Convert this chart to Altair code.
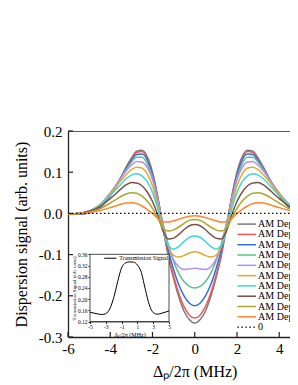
import altair as alt
import pandas as pd

# ---- main chart data: probe detuning (MHz) and dispersion signal per AM depth ----
x_mhz = [-6, -5.5, -5, -4.5, -4, -3.75, -3.5, -3.25, -3, -2.75, -2.5, -2.25, -2, -1.75, -1.5,
         -1.25, -1, -0.75, -0.5, -0.25, 0, 0.25, 0.5, 0.75, 1, 1.25, 1.5, 1.75, 2, 2.25, 2.5,
         2.75, 3, 3.25, 3.5, 3.75, 4, 4.5, 5, 5.5, 6]

series_names = ["AM Depth(100%)", "AM Depth(90%)", "AM Depth(80%)", "AM Depth(70%)",
                "AM Depth(60%)", "AM Depth(50%)", "AM Depth(40%)", "AM Depth(30%)",
                "AM Depth(20%)", "AM Depth(10%)"]
series_colors = ["#7a7a7a", "#f25858", "#2f6fe0", "#5cc08a", "#b88cf0",
                 "#e3a92b", "#3ed6d6", "#7f4f45", "#a9a82a", "#ff8533"]

depth_100 = [-0.001, -0.002, 0.001, 0.013, 0.043, 0.064, 0.087, 0.112, 0.134, 0.151, 0.153, 0.138, 0.100, 0.040, -0.035,
             -0.105, -0.158, -0.203, -0.238, -0.258, -0.266, -0.258, -0.238, -0.203, -0.158, -0.105, -0.035, 0.040, 0.100, 0.138,
             0.153, 0.151, 0.134, 0.112, 0.087, 0.064, 0.043, 0.013, 0.001, -0.002, -0.001]
depth_90 = [-0.001, -0.002, 0.002, 0.014, 0.044, 0.065, 0.087, 0.111, 0.133, 0.148, 0.150, 0.135, 0.097, 0.038, -0.034,
            -0.100, -0.152, -0.195, -0.227, -0.247, -0.254, -0.247, -0.227, -0.195, -0.152, -0.100, -0.034, 0.038, 0.097, 0.135,
            0.150, 0.148, 0.133, 0.111, 0.087, 0.065, 0.044, 0.014, 0.002, -0.002, -0.001]
depth_80 = [-0.001, -0.002, 0.003, 0.016, 0.046, 0.066, 0.087, 0.109, 0.129, 0.143, 0.144, 0.130, 0.093, 0.036, -0.030,
            -0.089, -0.136, -0.174, -0.201, -0.218, -0.224, -0.218, -0.201, -0.174, -0.136, -0.089, -0.030, 0.036, 0.093, 0.130,
            0.144, 0.143, 0.129, 0.109, 0.087, 0.066, 0.046, 0.016, 0.003, -0.002, -0.001]
depth_70 = [-0.001, -0.001, 0.005, 0.019, 0.048, 0.066, 0.086, 0.106, 0.124, 0.136, 0.136, 0.121, 0.087, 0.034, -0.025,
            -0.076, -0.116, -0.146, -0.166, -0.177, -0.181, -0.177, -0.166, -0.146, -0.116, -0.076, -0.025, 0.034, 0.087, 0.121,
            0.136, 0.136, 0.124, 0.106, 0.086, 0.066, 0.048, 0.019, 0.005, -0.001, -0.001]
depth_60 = [-0.001, 0.000, 0.006, 0.021, 0.050, 0.067, 0.085, 0.103, 0.117, 0.126, 0.125, 0.112, 0.082, 0.033, -0.026,
            -0.078, -0.112, -0.130, -0.136, -0.135, -0.133, -0.135, -0.136, -0.130, -0.112, -0.078, -0.026, 0.033, 0.082, 0.112,
            0.125, 0.126, 0.117, 0.103, 0.085, 0.067, 0.050, 0.021, 0.006, 0.000, -0.001]
depth_50 = [-0.001, 0.000, 0.006, 0.021, 0.048, 0.063, 0.079, 0.094, 0.106, 0.112, 0.110, 0.096, 0.067, 0.021, -0.036,
            -0.080, -0.102, -0.106, -0.102, -0.096, -0.093, -0.096, -0.102, -0.106, -0.102, -0.080, -0.036, 0.021, 0.067, 0.096,
            0.110, 0.112, 0.106, 0.094, 0.079, 0.063, 0.048, 0.021, 0.006, 0.000, -0.001]
depth_40 = [-0.001, 0.000, 0.006, 0.019, 0.044, 0.057, 0.071, 0.084, 0.093, 0.096, 0.091, 0.077, 0.051, 0.011, -0.041,
            -0.078, -0.087, -0.080, -0.068, -0.058, -0.055, -0.058, -0.068, -0.080, -0.087, -0.078, -0.041, 0.011, 0.051, 0.077,
            0.091, 0.096, 0.093, 0.084, 0.071, 0.057, 0.044, 0.019, 0.006, 0.000, -0.001]
depth_30 = [-0.001, 0.000, 0.005, 0.016, 0.036, 0.047, 0.059, 0.069, 0.075, 0.074, 0.067, 0.052, 0.029, -0.004, -0.043,
            -0.062, -0.060, -0.051, -0.039, -0.030, -0.027, -0.030, -0.039, -0.051, -0.060, -0.062, -0.043, -0.004, 0.029, 0.052,
            0.067, 0.074, 0.075, 0.069, 0.059, 0.047, 0.036, 0.016, 0.005, 0.000, -0.001]
depth_20 = [-0.001, 0.000, 0.003, 0.011, 0.025, 0.033, 0.041, 0.047, 0.050, 0.049, 0.042, 0.030, 0.012, -0.012, -0.036,
            -0.043, -0.040, -0.033, -0.024, -0.017, -0.015, -0.017, -0.024, -0.033, -0.040, -0.043, -0.036, -0.012, 0.012, 0.030,
            0.042, 0.049, 0.050, 0.047, 0.041, 0.033, 0.025, 0.011, 0.003, 0.000, -0.001]
depth_10 = [-0.001, 0.000, 0.002, 0.007, 0.014, 0.018, 0.022, 0.025, 0.026, 0.024, 0.018, 0.010, 0.000, -0.012, -0.020,
            -0.021, -0.018, -0.014, -0.010, -0.007, -0.006, -0.007, -0.010, -0.014, -0.018, -0.021, -0.020, -0.012, 0.000, 0.010,
            0.018, 0.024, 0.026, 0.025, 0.022, 0.018, 0.014, 0.007, 0.002, 0.000, -0.001]

curves = [depth_100, depth_90, depth_80, depth_70, depth_60,
          depth_50, depth_40, depth_30, depth_20, depth_10]

zero_x = [-6, 6]
zero_y = [0, 0]

x_ticks = [-6, -4, -2, 0, 2, 4]
y_ticks = [-0.3, -0.2, -0.1, 0.0, 0.1, 0.2]

# ---- inset data: transmission signal ----
inset_x = [-5, -4.5, -4, -3.5, -3, -2.5, -2, -1.5, -1, -0.5, 0, 0.5, 1, 1.5, 2, 2.5, 3, 3.5, 4, 4.5, 5]
inset_y = [0.153, 0.150, 0.147, 0.145, 0.148, 0.165, 0.205, 0.262, 0.312, 0.329, 0.333, 0.332, 0.322, 0.295, 0.235,
           0.180, 0.152, 0.146, 0.149, 0.153, 0.158]
inset_x_ticks = [-5, -3, -1, 1, 3, 5]
inset_y_ticks = [0.12, 0.16, 0.20, 0.24, 0.28, 0.32, 0.36]

# ---- tables ----
rows = []
for name, vals in zip(series_names, curves):
    for xv, yv in zip(x_mhz, vals):
        rows.append({"x": xv, "y": yv, "series": name})
df = pd.DataFrame(rows)
zero_df = pd.DataFrame({"x": zero_x, "y": zero_y})
legend_df = pd.DataFrame({"series": series_names, "i": list(range(len(series_names)))})
zero_leg_df = pd.DataFrame({"label": ["0"], "i": [len(series_names)]})
xt_df = pd.DataFrame({"t": x_ticks})
yt_df = pd.DataFrame({"t": y_ticks})
frame_df = pd.DataFrame({"x": [-6], "x2": [6], "y": [0.2]})
inset_df = pd.DataFrame({"u": inset_x, "v": inset_y})
inset_box = pd.DataFrame({"u": [-5], "u2": [5], "v": [0.12], "v2": [0.36]})
inset_leg = pd.DataFrame({"label": ["Transmission Signal"], "u": [-3.2], "u2": [-1.65], "ut": [-1.3], "v": [0.346]})

FONT = "Liberation Serif"
W, H = 222, 206
AX = "#222222"
MINUS_X = "replace(format(datum.value, 'd'), '\u2212', '-')"
MINUS_Y = "replace(format(datum.value, '.1f'), '\u2212', '-')"


def xs():
    return alt.Scale(domain=[-6, 4.51], nice=False, zero=False)


def ys():
    return alt.Scale(domain=[-0.3, 0.2], nice=False, zero=False)


def ixs():
    return alt.Scale(domain=[-5, 5], range=[22, 101], nice=False, zero=False)


def iys():
    return alt.Scale(domain=[0.12, 0.36], range=[190.5, 123.3], nice=False, zero=False)


cs = alt.Scale(domain=series_names, range=series_colors)

x_axis = alt.Axis(orient="bottom", values=x_ticks, tickSize=0, labelPadding=4, labelFontSize=15,
                  labelFont=FONT, labelColor="black", labelFlush=False, labelExpr=MINUS_X,
                  title="Δₚ/2π (MHz)", titleFont=FONT, titleFontSize=16, titleFontWeight="normal",
                  titleColor="black", titlePadding=7, titleX=126.7, titleAlign="center",
                  domainColor=AX, domainWidth=1.3, grid=False)
y_axis = alt.Axis(orient="left", values=y_ticks, tickSize=0, labelPadding=6, labelFontSize=15,
                  labelFont=FONT, labelColor="black", labelExpr=MINUS_Y,
                  title="Dispersion signal (arb. units)",
                  titleFont=FONT, titleFontSize=16, titleFontWeight="normal", titleColor="black",
                  titlePadding=9, domainColor=AX, domainWidth=1.3, grid=False)

lines = alt.Chart(df).mark_line(strokeWidth=1.5, interpolate="monotone", clip=True).encode(
    x=alt.X("x:Q", scale=xs(), axis=x_axis),
    y=alt.Y("y:Q", scale=ys(), axis=y_axis),
    color=alt.Color("series:N", scale=cs, legend=None),
)

zero_line = alt.Chart(zero_df).mark_line(color="black", strokeWidth=1.2, strokeDash=[1.5, 2.5], clip=True).encode(
    x=alt.X("x:Q", scale=xs(), axis=None),
    y=alt.Y("y:Q", scale=ys(), axis=None),
)

top_frame = alt.Chart(frame_df).mark_rule(color=AX, strokeWidth=1.3, clip=True).encode(
    x=alt.X("x:Q", scale=xs(), axis=None), x2="x2:Q",
    y=alt.Y("y:Q", scale=ys(), axis=None),
)

xticks_in = alt.Chart(xt_df).mark_rule(color=AX, strokeWidth=1.2).encode(
    x=alt.X("t:Q", scale=xs(), axis=None), y=alt.value(H), y2=alt.value(H - 5),
)
yticks_in = alt.Chart(yt_df).mark_rule(color=AX, strokeWidth=1.2).encode(
    y=alt.Y("t:Q", scale=ys(), axis=None), x=alt.value(0), x2=alt.value(5),
)

leg_base = alt.Chart(legend_df).transform_calculate(
    ly="-0.026 - datum.i * 0.025", lx="2.02", lx2="2.9", tx="3.0")
leg_lines = leg_base.mark_rule(strokeWidth=1.5).encode(
    x=alt.X("lx:Q", scale=xs(), axis=None), x2="lx2:Q",
    y=alt.Y("ly:Q", scale=ys(), axis=None),
    color=alt.Color("series:N", scale=cs, legend=None),
)
leg_text = leg_base.mark_text(align="left", baseline="middle", font=FONT, fontSize=10, color="black").encode(
    x=alt.X("tx:Q", scale=xs(), axis=None),
    y=alt.Y("ly:Q", scale=ys(), axis=None),
    text="series:N",
)
zleg_base = alt.Chart(zero_leg_df).transform_calculate(
    ly="-0.026 - datum.i * 0.025", lx="2.02", lx2="2.9", tx="3.0")
zero_leg_line = zleg_base.mark_rule(strokeWidth=1.2, color="black", strokeDash=[1.5, 2.5]).encode(
    x=alt.X("lx:Q", scale=xs(), axis=None), x2="lx2:Q",
    y=alt.Y("ly:Q", scale=ys(), axis=None),
)
zero_leg_text = zleg_base.mark_text(align="left", baseline="middle", font=FONT, fontSize=10, color="black").encode(
    x=alt.X("tx:Q", scale=xs(), axis=None),
    y=alt.Y("ly:Q", scale=ys(), axis=None),
    text="label:N",
)

# ---- inset (own scales placed inside the plot area) ----
ix_axis = alt.Axis(orient="bottom", offset=-15.5, values=inset_x_ticks, tickSize=2, tickColor=AX,
                   labelFontSize=5.5, labelFont=FONT, labelColor="black", labelPadding=1,
                   labelFlush=False, labelExpr=MINUS_X,
                   title="Δₚ/2π (MHz)", titleFont=FONT, titleFontSize=6, titleFontWeight="normal",
                   titleColor="black", titlePadding=1, domainColor=AX, domainWidth=0.8, grid=False)
iy_axis = alt.Axis(orient="left", offset=-22, values=inset_y_ticks, tickSize=2, tickColor=AX,
                   labelFontSize=5.5, labelFont=FONT, labelColor="black", labelPadding=1,
                   format=".2f", title="Transmission Signal (arb. units)", titleFont=FONT,
                   titleFontSize=5, titleFontWeight="normal", titleColor="black", titlePadding=1,
                   domainColor=AX, domainWidth=0.8, grid=False)

box = alt.Chart(inset_box).mark_rect(fill="white", stroke=AX, strokeWidth=0.8).encode(
    x=alt.X("u:Q", scale=ixs(), axis=None), x2="u2:Q",
    y=alt.Y("v:Q", scale=iys(), axis=None), y2="v2:Q",
)
inset_line = alt.Chart(inset_df).mark_line(color="black", strokeWidth=1, interpolate="monotone").encode(
    x=alt.X("u:Q", scale=ixs(), axis=ix_axis),
    y=alt.Y("v:Q", scale=iys(), axis=iy_axis),
)
inset_leg_line = alt.Chart(inset_leg).mark_rule(color="black", strokeWidth=1).encode(
    x=alt.X("u:Q", scale=ixs(), axis=None), x2="u2:Q",
    y=alt.Y("v:Q", scale=iys(), axis=None),
)
inset_leg_text = alt.Chart(inset_leg).mark_text(align="left", baseline="middle", font=FONT,
                                                fontSize=6, color="black").encode(
    x=alt.X("ut:Q", scale=ixs(), axis=None),
    y=alt.Y("v:Q", scale=iys(), axis=None),
    text="label:N",
)

chart = alt.layer(
    lines, zero_line, top_frame, xticks_in, yticks_in,
    leg_lines, leg_text, zero_leg_line, zero_leg_text,
    box, inset_line, inset_leg_line, inset_leg_text,
).resolve_scale(x="independent", y="independent").properties(
    width=W, height=H,
    background="white",
    autosize=alt.AutoSizeParams(type="none"),
    padding={"left": 60, "top": 123, "right": 0, "bottom": 44},
).configure_view(strokeWidth=0).configure_axis(labelFont=FONT, titleFont=FONT)

chart.save("out.html", embed_options={"renderer": "svg", "actions": False})
